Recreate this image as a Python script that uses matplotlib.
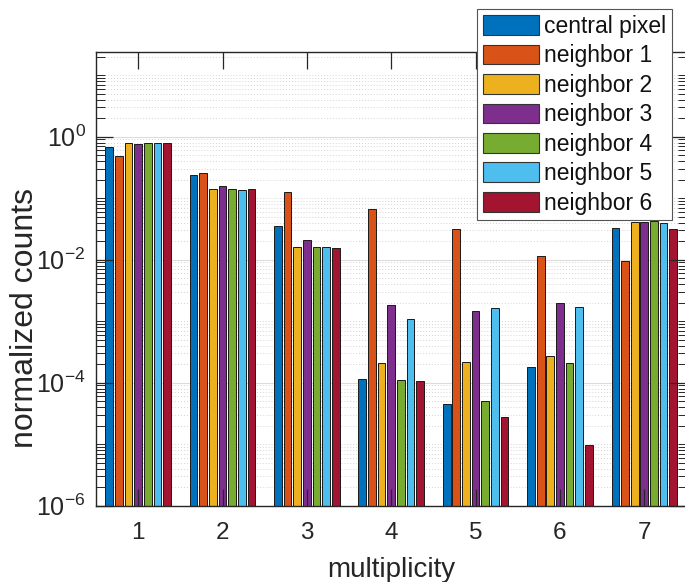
import numpy as np
import matplotlib
matplotlib.use("Agg")
import matplotlib.pyplot as plt
from matplotlib.ticker import FixedLocator, LogLocator, NullFormatter, FuncFormatter
from matplotlib.patches import Patch

plt.rcParams['font.family'] = ['Liberation Sans', 'DejaVu Sans']
plt.rcParams['mathtext.fontset'] = 'custom'
plt.rcParams['mathtext.rm'] = 'Liberation Sans'
plt.rcParams['mathtext.it'] = 'Liberation Sans:italic'
plt.rcParams['mathtext.bf'] = 'Liberation Sans:bold'

# ---------------- data ----------------
multiplicity = [1, 2, 3, 4, 5, 6, 7]
series_names = ["central pixel", "neighbor 1", "neighbor 2", "neighbor 3",
                "neighbor 4", "neighbor 5", "neighbor 6"]
central_pixel = [0.67, 0.242, 0.0347, 1.16e-4, 4.56e-5, 1.79e-4, 0.0327]
neighbor_1    = [0.48, 0.258, 0.128, 0.0664, 0.0315, 0.0115, 9.6e-3]
neighbor_2    = [0.79, 0.143, 0.0158, 2.09e-4, 2.19e-4, 2.74e-4, 0.0403]
neighbor_3    = [0.75, 0.160, 0.0211, 1.82e-3, 1.45e-3, 1.98e-3, 0.0408]
neighbor_4    = [0.79, 0.143, 0.0163, 1.10e-4, 5.1e-5, 2.11e-4, 0.0418]
neighbor_5    = [0.79, 0.137, 0.0158, 1.08e-3, 1.62e-3, 1.71e-3, 0.0394]
neighbor_6    = [0.79, 0.140, 0.0155, 1.05e-4, 2.77e-5, 9.7e-6, 0.0318]
series_values = [central_pixel, neighbor_1, neighbor_2, neighbor_3,
                 neighbor_4, neighbor_5, neighbor_6]
colors = ["#0072BD", "#D95319", "#EDB120", "#7E2F8E", "#77AC30", "#4DBEEE", "#A2142F"]
ytick_values = [1e-6, 1e-4, 1e-2, 1e0]

# ---------------- figure ----------------
W, H = 685, 582
fig = plt.figure(figsize=(W / 100, H / 100), dpi=100)
left_px, right_px, top_px, bottom_px = 96, 686.5, 51.7, 505.7
rect = [left_px / W, 1 - bottom_px / H, (right_px - left_px) / W, (bottom_px - top_px) / H]

ax = fig.add_axes(rect)
ax.set_yscale('log')
ax.set_xlim(0.5, 7.5)
ax.set_ylim(1e-6, 24)

n = len(series_values)
group_w = 0.8
slot = group_w / n
bar_w = slot * 0.8
x = np.array(multiplicity, dtype=float)
for i, (vals, c) in enumerate(zip(series_values, colors)):
    ax.bar(x + (i - (n - 1) / 2) * slot, vals, width=bar_w, bottom=1e-9,
           color=c, edgecolor='#1a1a1a', linewidth=0.7, zorder=2)

# grid on the main axes (below bars)
ax.set_axisbelow(True)
ax.yaxis.set_major_locator(FixedLocator(ytick_values))
ax.yaxis.set_minor_locator(LogLocator(base=10, subs=np.arange(1, 10), numticks=100))
ax.grid(True, which='major', axis='y', color='#dcdcdc', linewidth=0.8, linestyle='-')
ax.grid(True, which='minor', axis='y', color='#d4d4d4', linewidth=0.7, linestyle=(0, (1, 2)))
ax.grid(False, axis='x')
ax.tick_params(which='both', length=0, labelleft=False, labelbottom=False)
ax.yaxis.set_minor_formatter(NullFormatter())
for s in ax.spines.values():
    s.set_visible(False)

# overlay axes for frame, ticks (drawn above bars) and labels
ax2 = fig.add_axes(rect)
ax2.patch.set_visible(False)
ax2.set_zorder(ax.get_zorder() + 1)
ax2.set_yscale('log')
ax2.set_xlim(0.5, 7.5)
ax2.set_ylim(1e-6, 24)
ax2.xaxis.set_major_locator(FixedLocator(multiplicity))
ax2.set_xticklabels([str(m) for m in multiplicity])
ax2.yaxis.set_major_locator(FixedLocator(ytick_values))
ax2.yaxis.set_minor_locator(LogLocator(base=10, subs=np.arange(1, 10), numticks=100))
ax2.yaxis.set_minor_formatter(NullFormatter())
ax2.yaxis.set_major_formatter(FuncFormatter(
    lambda v, p: r'$\mathregular{10^{%d}}$' % int(round(np.log10(v)))))
axcol = '#262626'
for s in ax2.spines.values():
    s.set_color(axcol)
    s.set_linewidth(1.0)
ax2.tick_params(axis='x', which='major', direction='in', length=12.5, width=0.9,
                top=True, bottom=True, colors=axcol, labelsize=17.5, pad=12)
ax2.tick_params(axis='x', which='minor', length=0)
ax2.tick_params(axis='y', which='major', direction='in', length=12.5, width=0.9,
                left=True, right=True, colors=axcol, labelsize=18, pad=7.5)
ax2.tick_params(axis='y', which='minor', direction='in', length=6.5, width=0.7,
                left=True, right=True, colors=axcol)

ax2.set_xlabel('multiplicity', fontsize=20, color=axcol, labelpad=9)
ax2.set_ylabel('normalized counts', fontsize=23, color=axcol)
ax2.yaxis.set_label_coords(-0.0948, 0.4145)

# legend
handles = [Patch(facecolor=c, edgecolor='#333333', linewidth=0.8) for c in colors]
leg = fig.legend(handles, series_names, loc='upper right',
                 bbox_to_anchor=(671.7 / W, 1 - 9.3 / H), bbox_transform=fig.transFigure,
                 borderaxespad=0, fontsize=16.5, frameon=True, fancybox=False,
                 framealpha=1, edgecolor='#555555', handlelength=2.45,
                 handleheight=0.95, handletextpad=0.2, labelspacing=0.28,
                 borderpad=0.25)
leg.get_frame().set_linewidth(0.8)
for t in leg.get_texts():
    t.set_color('#111111')

fig.savefig('out.png', dpi=100)
